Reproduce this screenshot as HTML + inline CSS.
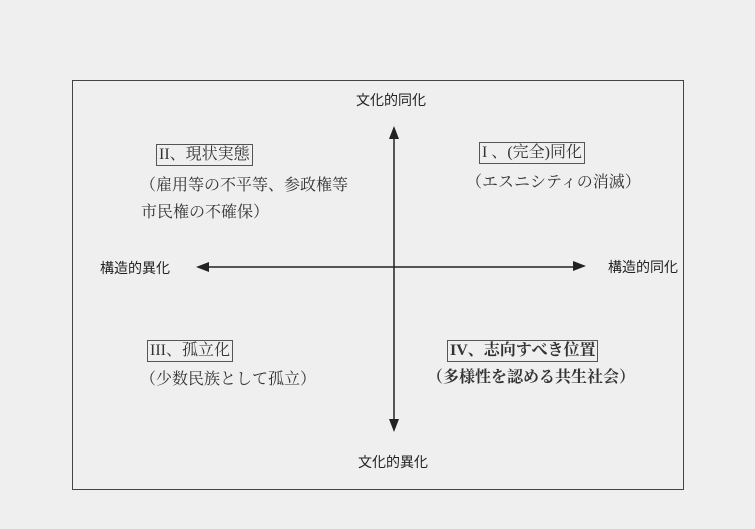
<!DOCTYPE html>
<html><head><meta charset="utf-8"><style>
body{margin:0;width:755px;height:529px;background:#efefef;position:relative;overflow:hidden;font-family:"Liberation Serif","Noto Serif CJK SC",serif;color:#333}
.t{position:absolute;white-space:nowrap;font-size:16px;line-height:20px}
.g{font-family:"Liberation Sans","Noto Sans CJK JP",sans-serif;font-size:14px;color:#222}
.b{border:1.5px solid #555;padding:0 2px}
</style></head><body>
<div style="position:absolute;left:72px;top:80px;width:610px;height:408px;border:1.5px solid #444"></div>
<svg width="755" height="529" style="position:absolute;left:0;top:0">
<line x1="394" y1="135" x2="394" y2="423" stroke="#222" stroke-width="1.5"/>
<polygon points="394,126 389,139 399,139" fill="#222"/>
<polygon points="394,432 389,419 399,419" fill="#222"/>
<line x1="205" y1="267" x2="578" y2="267" stroke="#222" stroke-width="1.5"/>
<polygon points="196,267 209,262 209,272" fill="#222"/>
<polygon points="586,266 573,261 573,271" fill="#222"/>
</svg>
<div class="t g" style="left:356px;top:90px">文化的同化</div>
<div class="t g" style="left:358px;top:452px">文化的異化</div>
<div class="t g" style="left:100px;top:258px">構造的異化</div>
<div class="t g" style="left:608px;top:257px">構造的同化</div>
<div class="t b" style="left:156px;top:144px">II、現状実態</div>
<div class="t" style="left:140px;top:176px">（雇用等の不平等、参政権等</div>
<div class="t" style="left:141px;top:203px">市民権の不確保）</div>
<div class="t b" style="left:479px;top:142px">I 、(完全)同化</div>
<div class="t" style="left:466px;top:173px">（エスニシティの消滅）</div>
<div class="t b" style="left:147px;top:340px">III、孤立化</div>
<div class="t" style="left:140px;top:370px">（少数民族として孤立）</div>
<div class="t b" style="left:447px;top:340px;font-weight:bold">IV、志向すべき位置</div>
<div class="t" style="left:427px;top:368px;font-weight:bold">（多様性を認める共生社会）</div>
</body></html>
